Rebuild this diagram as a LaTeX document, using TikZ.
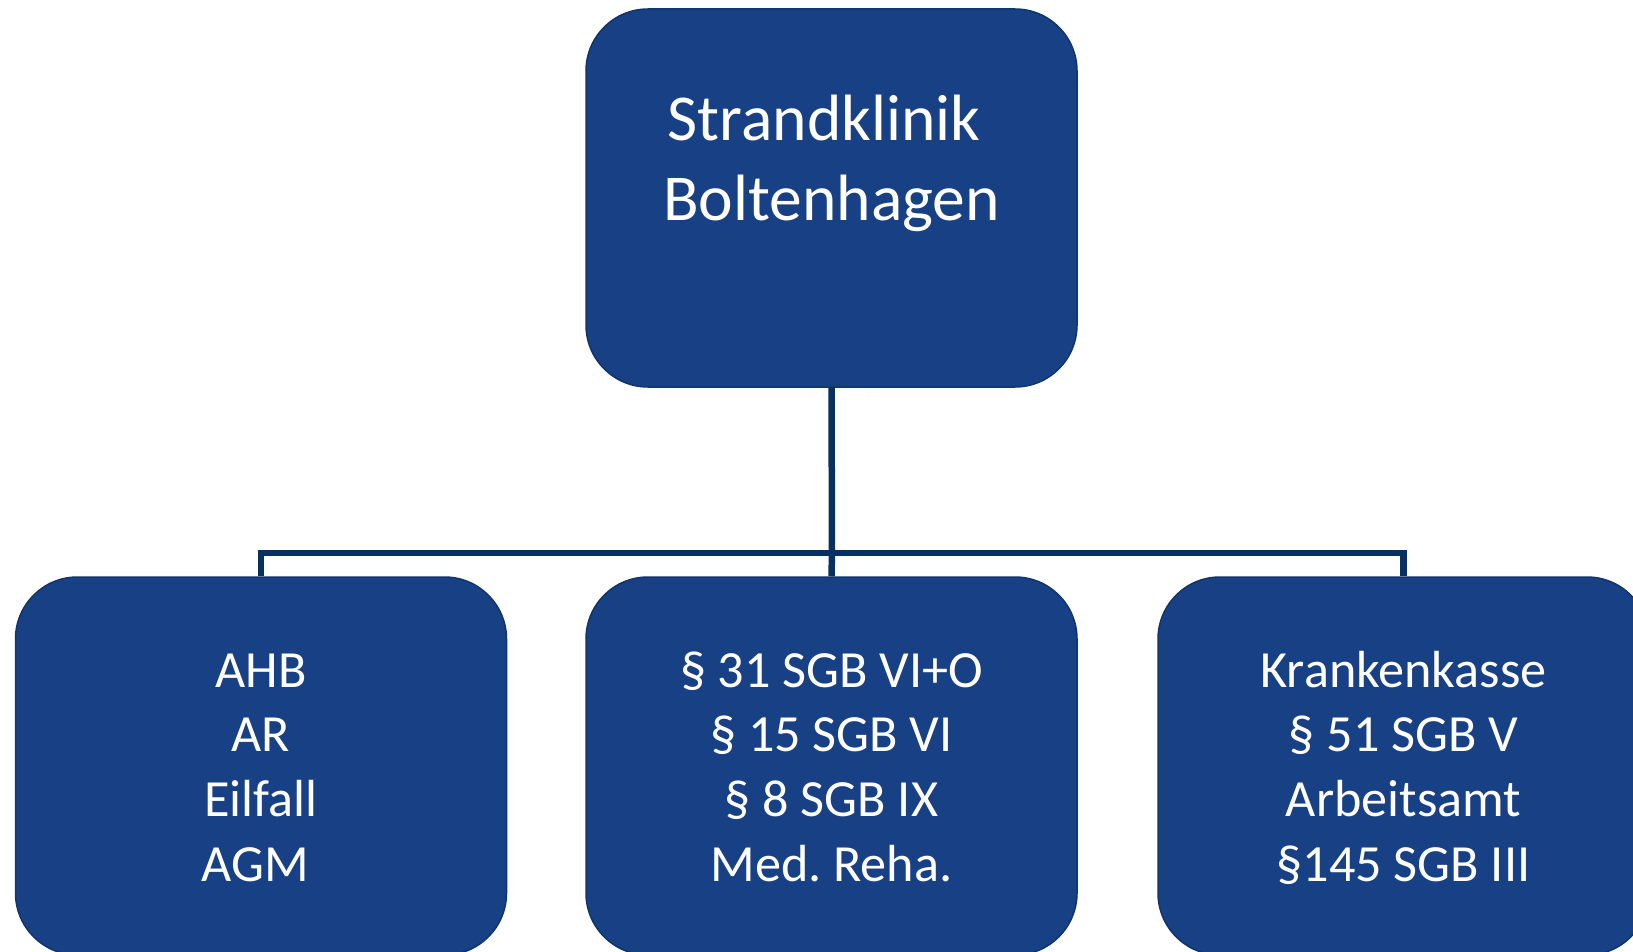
\documentclass[tikz,border=0pt]{standalone}
\usepackage{fontspec}
\setmainfont{Carlito}
\definecolor{boxfill}{RGB}{24,64,132}
\definecolor{boxline}{RGB}{16,52,108}
\definecolor{conn}{RGB}{6,49,97}
\begin{document}
\frenchspacing
\begin{tikzpicture}[x=1pt,y=-1pt,
  orgbox/.style={draw=boxline, line width=1.5pt, fill=boxfill, rounded corners=62pt,
    minimum width=491pt, minimum height=378pt, inner sep=0pt},
  bigtext/.style={text=white, align=center, font=\frenchspacing\fontsize{65.5pt}{80pt}\selectfont,
    inner sep=0pt, anchor=base},
  smalltext/.style={text=white, align=center, font=\frenchspacing\fontsize{52.2pt}{64.6pt}\selectfont,
    inner sep=0pt, anchor=base},
  link/.style={draw=conn, line width=6.5pt, line join=miter}]
\useasboundingbox (0,0) rectangle (1633,952);
\node[orgbox] (top) at (831.5,198) {};
\node[orgbox] (left) at (261,766) {};
\node[orgbox] (mid) at (831.5,766) {};
\node[orgbox] (right) at (1403.5,766) {};
\coordinate (junction) at (832,553);
\draw[link] (top.south) -- (junction);
\draw[link] (junction) -- (mid.north);
\draw[link] (left.north) -- (left.north |- junction) -- (right.north |- junction) -- (right.north);
\node[bigtext] (toptext) at (831.5,221) {Strandklinik\kern0.226em\\Boltenhagen};
\node[smalltext] (lefttext) at (261,881) {AHB\\AR\\Eilfall\\AGM\kern0.226em};
\node[smalltext] (midtext) at (831.5,881) {§ 31 SGB VI+O\\§ 15 SGB VI\\§ 8 SGB IX\\Med. Reha.};
\node[smalltext] (righttext) at (1403.5,881) {Krankenkasse\\§ 51 SGB V\\Arbeitsamt\\§145 SGB III};
\end{tikzpicture}
\end{document}
